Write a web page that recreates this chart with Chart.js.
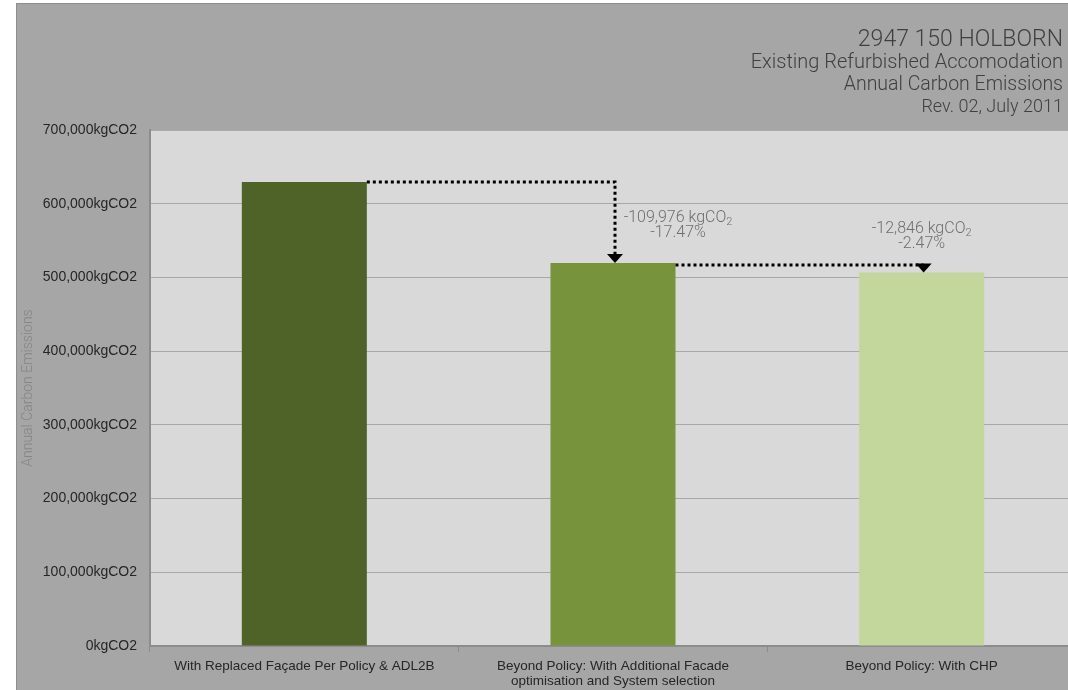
<!DOCTYPE html>
<html>
<head>
<meta charset="utf-8">
<script src="https://cdn.jsdelivr.net/npm/chart.js@4"></script>
<style>
  html, body { margin: 0; padding: 0; background: #ffffff; overflow: hidden; }
  #wrap { width: 1068px; height: 690px; position: relative; overflow: hidden; }
</style>
</head>
<body>
<div id="wrap"><canvas id="carbonChart" width="1076" height="690"></canvas></div>
<script>
const categories = [
  "With Replaced Façade Per Policy & ADL2B",
  ["Beyond Policy: With Additional Facade", "optimisation and System selection"],
  "Beyond Policy: With CHP"
];
const emissions = [629513, 519537, 506691];
const savings = [null, "-109,976", "-12,846"];
const savingsPct = [null, "-17.47%", "-2.47%"];
const barColors = ["#4f6228", "#77933c", "#c3d69b"];
const titleLines = ["2947 150 HOLBORN", "Existing Refurbished Accomodation", "Annual Carbon Emissions", "Rev. 02, July 2011"];

// backgrounds, title block, dotted arrows and the saving notes
const decorations = {
  id: "decorations",
  beforeDraw(chart) {
    const { ctx, chartArea } = chart;
    ctx.save();
    ctx.fillStyle = "#ffffff";
    ctx.fillRect(0, 0, chart.width, chart.height);
    ctx.fillStyle = "#a6a6a6";
    ctx.fillRect(17, 4, chart.width - 17, chart.height - 4);
    ctx.strokeStyle = "#8e8e8e";
    ctx.lineWidth = 1;
    ctx.strokeRect(16.5, 3.5, chart.width, chart.height);
    ctx.fillStyle = "#d9d9d9";
    ctx.fillRect(chartArea.left, chartArea.top, chartArea.right - chartArea.left, chartArea.bottom - chartArea.top);
    ctx.restore();
  },
  afterDraw(chart) {
    const { ctx } = chart;
    ctx.save();
    ctx.fillStyle = "#404040";
    ctx.textAlign = "right";
    ctx.textBaseline = "alphabetic";
    ctx.font = "300 23px Roboto";
    ctx.fillText(titleLines[0], 1063, 46);
    ctx.font = "300 20px Roboto";
    ctx.fillText(titleLines[1], 1063, 68);
    ctx.font = "300 19.5px Roboto";
    ctx.fillText(titleLines[2], 1063, 90);
    ctx.font = "300 18px Roboto";
    ctx.fillText(titleLines[3], 1063, 112);

    const bars = chart.getDatasetMeta(0).data;
    ctx.strokeStyle = "#000000";
    ctx.lineWidth = 3;
    ctx.setLineDash([3, 3]);
    for (let i = 1; i < bars.length; i++) {
      const prev = bars[i - 1], cur = bars[i];
      const startX = prev.x + prev.width / 2;
      const y0 = i === 1 ? prev.y : prev.y + 2;
      const endX = cur.x + 2;
      ctx.beginPath();
      ctx.moveTo(startX, y0);
      ctx.lineTo(endX, y0);
      ctx.lineTo(endX, cur.y - 8);
      ctx.stroke();
      ctx.save();
      ctx.setLineDash([]);
      ctx.fillStyle = "#000000";
      ctx.beginPath();
      ctx.moveTo(endX - 8, cur.y - 9);
      ctx.lineTo(endX + 8, cur.y - 9);
      ctx.lineTo(endX, cur.y);
      ctx.closePath();
      ctx.fill();
      ctx.restore();
    }
    ctx.setLineDash([]);

    // notes
    ctx.fillStyle = "#6f6f6f";
    ctx.textAlign = "left";
    const notePos = [null, { x: bars[1].x + 65, y: 222 }, { x: bars[2].x, y: 233 }];
    for (let i = 1; i < bars.length; i++) {
      const p = notePos[i];
      ctx.font = "300 16px Roboto";
      const a = savings[i] + " kgCO";
      const wa = ctx.measureText(a).width;
      ctx.font = "300 11px Roboto";
      const wb = ctx.measureText("2").width;
      const left = p.x - (wa + wb) / 2;
      ctx.font = "300 16px Roboto";
      ctx.fillText(a, left, p.y);
      ctx.font = "300 11px Roboto";
      ctx.fillText("2", left + wa, p.y + 3);
      ctx.font = "300 16px Roboto";
      ctx.textAlign = "center";
      ctx.fillText(savingsPct[i], p.x, p.y + 15);
      ctx.textAlign = "left";
    }
    ctx.restore();
  }
};

new Chart(document.getElementById("carbonChart"), {
  type: "bar",
  data: {
    labels: categories,
    datasets: [{
      data: emissions,
      backgroundColor: barColors,
      borderWidth: 0,
      categoryPercentage: 1,
      barPercentage: 0.405
    }]
  },
  options: {
    responsive: false,
    animation: false,
    layout: { padding: { left: 0, top: 130, right: 0, bottom: 0 } },
    plugins: { legend: { display: false }, tooltip: { enabled: false } },
    scales: {
      x: {
        afterFit(scale) { scale.height = 44; },
        grid: { drawOnChartArea: false, tickLength: 6, color: "#8c8c8c" },
        border: { color: "#8c8c8c", width: 2 },
        ticks: {
          color: "#262626",
          padding: 7,
          maxRotation: 0,
          autoSkip: false,
          font: { family: "'Liberation Sans', Arial, sans-serif", size: 13.5, lineHeight: 1.1 }
        }
      },
      y: {
        min: 0,
        max: 700000,
        afterFit(scale) { scale.width = 150; },
        grid: { color: "#a8a8a8", tickLength: 6, lineWidth: 1 },
        border: { color: "#8c8c8c", width: 2 },
        ticks: {
          stepSize: 100000,
          color: "#262626",
          padding: 7,
          font: { family: "'Liberation Sans', Arial, sans-serif", size: 14 },
          callback: (v) => v.toLocaleString("en-US") + "kgCO2"
        },
        title: {
          display: true,
          text: "Annual Carbon Emissions",
          color: "#858585",
          padding: { top: 20, bottom: 0 },
          font: { family: "Roboto", weight: 300, size: 14 }
        }
      }
    }
  },
  plugins: [decorations]
});
</script>
</body>
</html>
